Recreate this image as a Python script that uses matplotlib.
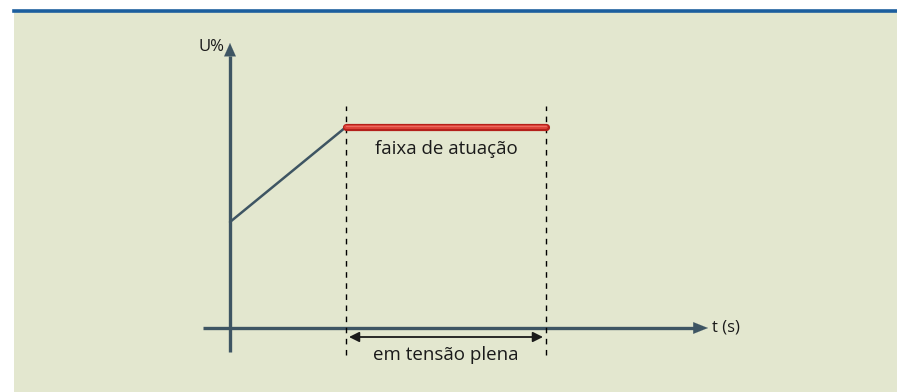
import matplotlib
matplotlib.use("Agg")
import matplotlib.pyplot as plt
from matplotlib.patches import Rectangle, FancyArrowPatch
from matplotlib.lines import Line2D

plt.rcParams['font.family'] = ['Open Sans', 'DejaVu Sans']

# schematic values (time axis / voltage axis, arbitrary units)
t_ramp = [0, 116]
u_ramp = [106, 201]
t_band = [116, 316]
u_band = [201, 201]
t_marks = [116, 316]
axis_label_u = "U%"
axis_label_t = "t (s)"
band_label = "faixa de atuação"
span_label = "em tensão plena"

bg = "#e3e7cf"
axis_col = "#3e5563"

fig = plt.figure(figsize=(8.97, 3.92), dpi=100)
fig.patch.set_facecolor("white")

ax = fig.add_axes([0, 0, 1, 1])
ax.set_xlim(-230, 667)
ax.set_ylim(-64, 328)
ax.axis("off")
ax.add_patch(Rectangle((14 / 897, 0), 1, 380 / 392, transform=ax.transAxes,
                       facecolor=bg, edgecolor="none", zorder=0))
ax.add_line(Line2D([14 / 897, 1], [1 - 10.5 / 392] * 2, transform=ax.transAxes,
                   color="#1c5e9e", lw=2.6, zorder=1))

# axes with arrows
ax.plot([0, 0], [-24, 272], color=axis_col, lw=2.4, solid_capstyle="butt")
ax.plot([-27, 464], [0, 0], color=axis_col, lw=2.4, solid_capstyle="butt")
ax.annotate("", xy=(0, 285), xytext=(0, 268),
            arrowprops=dict(arrowstyle="-|>,head_length=0.95,head_width=0.42",
                            color=axis_col, lw=0.1, shrinkA=0, shrinkB=0))
ax.annotate("", xy=(478, 0), xytext=(460, 0),
            arrowprops=dict(arrowstyle="-|>,head_length=1.05,head_width=0.42",
                            color=axis_col, lw=0.1, shrinkA=0, shrinkB=0))
ax.text(-5, 281, axis_label_u, ha="right", va="center", fontsize=12, color="#1a1a1a")
ax.text(482, 0, axis_label_t, ha="left", va="center", fontsize=12, color="#1a1a1a")

# ramp
ax.plot(t_ramp, u_ramp, color=axis_col, lw=1.8, solid_capstyle="round")

# dashed limits
for t in t_marks:
    ax.plot([t, t], [-27, 222], color="black", lw=1, ls=(0, (4, 4)))

# band
ax.plot(t_band, u_band, color="#b3201a", lw=5.2, solid_capstyle="round", zorder=4)
ax.plot(t_band, [u + 0.5 for u in u_band], color="#de4238", lw=2.8,
        solid_capstyle="round", zorder=5)
ax.plot(t_band, [u + 0.8 for u in u_band], color="#ea6a5f", lw=0.8,
        solid_capstyle="round", zorder=6)
ax.text(sum(t_band) / 2, 179, band_label, ha="center", va="center",
        fontsize=13.5, color="#1a1a1a")

# span arrow
ax.add_patch(FancyArrowPatch((t_marks[0] + 3, -9), (t_marks[1] - 3, -9),
                             arrowstyle="<|-|>,head_length=6,head_width=3",
                             color="#1a1a1a", lw=1.3, shrinkA=0, shrinkB=0))
ax.text(sum(t_marks) / 2, -27, span_label, ha="center", va="center",
        fontsize=13.5, color="#1a1a1a")

fig.savefig("out.png", dpi=100, facecolor=fig.get_facecolor())
